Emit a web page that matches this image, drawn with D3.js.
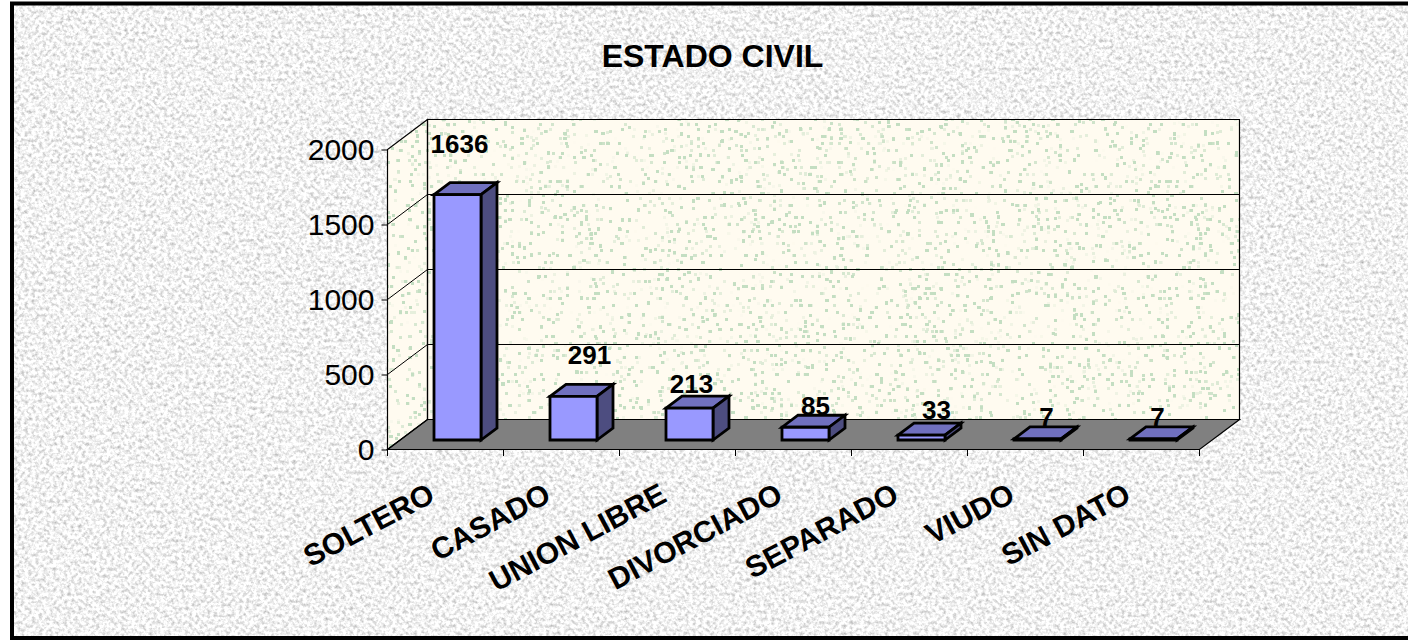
<!DOCTYPE html>
<html><head><meta charset="utf-8">
<script src="https://cdn.jsdelivr.net/npm/d3@7/dist/d3.min.js"></script>
<style>html,body{margin:0;padding:0;background:#fff;overflow:hidden}svg{display:block}text{font-family:"Liberation Sans",Arial,sans-serif;fill:#000}</style>
</head><body><svg id="c" width="1408" height="640"></svg>
<script>
const categories = ["SOLTERO","CASADO","UNION LIBRE","DIVORCIADO","SEPARADO","VIUDO","SIN DATO"];
const values = [1636,291,213,85,33,7,7];
const yTicks = [0,500,1000,1500,2000];
const chartTitle = "ESTADO CIVIL";

const svg = d3.select("#c");
const defs = svg.append("defs");

// Granite paper texture
const fg = defs.append("filter").attr("id","granite").attr("x",0).attr("y",0).attr("width","100%").attr("height","100%").attr("color-interpolation-filters","sRGB");
fg.append("feTurbulence").attr("type","fractalNoise").attr("baseFrequency",0.28).attr("numOctaves",3).attr("seed",7);
fg.append("feColorMatrix").attr("type","matrix").attr("values","0.55 0 0 0 0.675  0.55 0 0 0 0.675  0.55 0 0 0 0.675  0 0 0 0 1");
fg.append("feGaussianBlur").attr("stdDeviation",0.7);

// Speckled wall texture: thresholded noise dilated into small blocks
const fs = defs.append("filter").attr("id","speck").attr("x",0).attr("y",0).attr("width","100%").attr("height","100%").attr("color-interpolation-filters","sRGB");
fs.append("feTurbulence").attr("type","fractalNoise").attr("baseFrequency",0.42).attr("numOctaves",1).attr("seed",11);
fs.append("feColorMatrix").attr("type","matrix").attr("values","0 0 0 0 0.77  0 0 0 0 0.87  0 0 0 0 0.76  40 0 0 0 -28.6");
fs.append("feMorphology").attr("operator","dilate").attr("radius","1 1");
fs.append("feComposite").attr("in2","SourceGraphic").attr("operator","over");

const x = d3.scaleBand().domain(categories).range([387.5,1199.5]);
const y = d3.scaleLinear().domain([0,2000]).range([449.5,149.5]);
const depth = {dx:40, dy:-30};
const barDepth = {dx:16, dy:-12};
const gap = {dx:12, dy:-9.5};
const barW = 47;
// Hand-placed data labels in the original: shift from the bar's back-top centre
const labelShift = [[-14,-30],[0,-20],[-14,-3],[-6,0],[-1,-4],[-7,-1],[-12,-1]];

svg.append("rect").attr("x",12).attr("y",3.5).attr("width",1396).attr("height",634.5).attr("fill","#f1f1f1").attr("filter","url(#granite)");

const poly = (pts,fill,sw,stroke="#000") => svg.append("polygon").attr("points",pts.map(p=>p.join(",")).join(" ")).attr("fill",fill).attr("stroke",stroke).attr("stroke-width",sw).attr("stroke-linejoin","miter");

const [x0,x1] = x.range();
const yB = y(0), yT = y(2000);
const bx0 = x0+depth.dx, bx1 = x1+depth.dx;

defs.append("clipPath").attr("id","wall").append("polygon")
  .attr("points",[[x0,yB],[x0,yT],[bx0,yT+depth.dy],[bx1,yT+depth.dy],[bx1,yB+depth.dy],[bx0,yB+depth.dy]].map(p=>p.join(",")).join(" "));
svg.append("g").attr("clip-path","url(#wall)").append("rect")
  .attr("x",x0).attr("y",yT+depth.dy).attr("width",x1+depth.dx-x0).attr("height",yB-yT-depth.dy)
  .attr("fill","#fffbf0").attr("filter","url(#speck)");

poly([[x0,yB],[x1,yB],[bx1,yB+depth.dy],[bx0,yB+depth.dy]],"#808080",1.2);
poly([[x0,yB],[x0,yT],[bx0,yT+depth.dy],[bx0,yB+depth.dy]],"none",1.2);
poly([[bx0,yT+depth.dy],[bx1,yT+depth.dy],[bx1,yB+depth.dy],[bx0,yB+depth.dy]],"none",1.2);

yTicks.forEach(t=>{
  if(t===0||t===2000) return;
  svg.append("path").attr("fill","none").attr("stroke","#000").attr("stroke-width",1)
   .attr("d",d3.line()([[x0,y(t)],[bx0,y(t)+depth.dy],[bx1,y(t)+depth.dy]]));
});

const yAxis = d3.axisLeft(y).tickValues(yTicks).tickSize(6).tickPadding(7).tickFormat(d3.format("d"));
const ya = svg.append("g").attr("transform",`translate(${x0},0)`).call(yAxis);
ya.select(".domain").remove();
ya.selectAll("line").attr("stroke","#000").attr("stroke-width",1);
ya.selectAll("text").attr("font-size",30).style("font-family",'"Liberation Sans",Arial,sans-serif');

const tickXs = d3.range(categories.length+1).map(i=>x0+i*x.step());
svg.append("g").selectAll("line").data(tickXs).join("line")
  .attr("x1",d=>d).attr("x2",d=>d).attr("y1",yB).attr("y2",yB+6.5).attr("stroke","#000").attr("stroke-width",1);

const labels = [];
categories.forEach((c,i)=>{
  const cx = x(c)+x.bandwidth()/2+gap.dx;
  const l = cx-barW/2, r = cx+barW/2;
  const b = yB+gap.dy, t = b-(y(0)-y(values[i]));
  const {dx,dy} = barDepth;
  poly([[l,t],[r,t],[r+dx,t+dy],[l+dx,t+dy]],"#7070bf",2.8);
  poly([[r,t],[r+dx,t+dy],[r+dx,b+dy],[r,b]],"#4d4d80",2.8);
  poly([[l,t],[r,t],[r,b],[l,b]],"#9999ff",2.8);
  labels.push({v:values[i],x:cx+dx+labelShift[i][0],y:t+dy+labelShift[i][1]});
});
svg.append("g").selectAll("text").data(labels).join("text")
  .attr("x",d=>d.x).attr("y",d=>d.y).attr("text-anchor","middle")
  .attr("font-size",26).attr("font-weight","bold").text(d=>d.v);

categories.forEach(c=>{
  const cx = x(c)+x.bandwidth()/2;
  svg.append("text").attr("transform",`translate(${cx-9},${yB+51}) rotate(-28)`)
    .attr("text-anchor","end").attr("font-size",30).attr("font-weight","bold").text(c);
});

svg.append("text").attr("x",712.5).attr("y",67).attr("text-anchor","middle").attr("font-size",32).attr("font-weight","bold").text(chartTitle);

svg.append("rect").attr("x",12).attr("y",3.5).attr("width",1420).attr("height",634.5).attr("fill","none").attr("stroke","#000").attr("stroke-width",4);
</script></body></html>
